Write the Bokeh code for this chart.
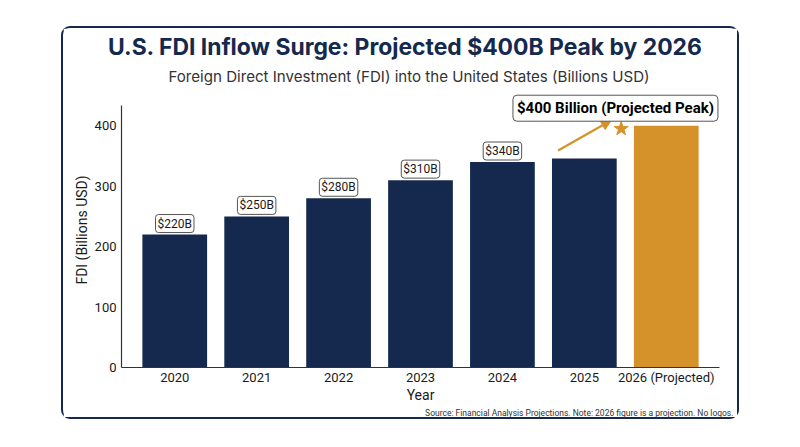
from bokeh.plotting import figure
from bokeh.models import (ColumnDataSource, FactorRange, Range1d, Label, Title,
                          Arrow, NormalHead, SingleIntervalTicker)
from bokeh.embed import file_html
from bokeh.resources import INLINE

# ---- data ----
years = ["2020", "2021", "2022", "2023", "2024", "2025", "2026 (Projected)"]
fdi = [220, 250, 280, 310, 340, 346, 400]
bar_colors = ["#14294d"] * 6 + ["#d6922a"]
label_years = ["2020", "2021", "2022", "2023", "2024"]
label_values = [220, 250, 280, 310, 340]
label_texts = ["$220B", "$250B", "$280B", "$310B", "$340B"]
peak_value = 400
peak_text = "$400 Billion (Projected Peak)"
y_ticks_step = 100
y_axis_top = 433

NAVY = "#14294d"
ORANGE = "#d6922a"
FONT = "Roboto"
TFONT = "Inter"

p = figure(width=678, height=393,
           x_range=FactorRange(*years, range_padding=0.15, range_padding_units="absolute"),
           y_range=Range1d(0, 455), output_backend="svg", toolbar_location=None,
           min_border_left=58, min_border_right=22, min_border_top=64, min_border_bottom=54,
           margin=(26, 0, 0, 61),
           styles={"border": "2px solid #14294d", "border-radius": "9px"})
p.outline_line_color = None
p.xgrid.grid_line_color = None
p.ygrid.grid_line_color = None
p.background_fill_color = "white"
p.border_fill_color = "white"

src = ColumnDataSource(dict(year=years, fdi=fdi, color=bar_colors))
p.vbar(x="year", top="fdi", width=0.79, color="color", source=src, line_color=None)

# axes
for ax in (p.xaxis[0], p.yaxis[0]):
    ax.axis_line_color = "#333333"
    ax.axis_line_width = 1.2
    ax.major_tick_line_color = None
    ax.minor_tick_line_color = None
    ax.major_tick_out = 0
    ax.major_tick_in = 0
    ax.minor_tick_out = 0
    ax.minor_tick_in = 0
    ax.major_label_text_font = FONT
    ax.major_label_text_font_size = "13px"
    ax.major_label_text_color = "#1a1a1a"
    ax.axis_label_text_font = FONT
    ax.axis_label_text_font_size = "14px"
    ax.axis_label_text_font_style = "normal"
    ax.axis_label_text_color = "#1a1a1a"
p.yaxis.ticker = SingleIntervalTicker(interval=y_ticks_step)
p.yaxis.bounds = (0, y_axis_top)
p.yaxis.axis_label = "FDI (Billions USD)"
p.xaxis.axis_label = "Year"
p.yaxis.major_label_standoff = 5
p.xaxis.major_label_standoff = 2
p.yaxis.axis_label_standoff = 2
p.xaxis.axis_label_standoff = -1

# value labels
for yr, v, t in zip(label_years, label_values, label_texts):
    p.add_layout(Label(x=years.index(yr) + 0.5, y=v, text=t, y_offset=11,
                       text_align="center", text_baseline="middle",
                       text_font=FONT, text_font_size="12px", text_color="#1a1a1a",
                       background_fill_color="white", border_line_color="#555555",
                       border_line_width=1, border_radius=3, padding=2))

# arrow, star, peak annotation
i25 = years.index("2025") + 0.5
p.add_layout(Arrow(x_start=i25 - 0.32, y_start=peak_value - 41, x_end=i25 + 0.33, y_end=peak_value + 9,
                   line_color=ORANGE, line_width=2.2,
                   end=NormalHead(size=10, fill_color=ORANGE, line_color=ORANGE)))
p.scatter(x=[i25 + 0.45], y=[peak_value - 5], marker="star", size=15, color=ORANGE)
p.add_layout(Label(x=i25 + 0.38, y=peak_value + 29, text=peak_text, text_align="center",
                   text_baseline="middle", text_font=FONT, text_font_size="15px",
                   text_font_style="bold", text_color="black", background_fill_color="white",
                   border_line_color="#555555", border_line_width=1, border_radius=4,
                   padding=4))

# titles (first added sits closest to the plot)
p.add_layout(Title(text="Foreign Direct Investment (FDI) into the United States (Billions USD)",
                   align="left", offset=47, standoff=14, text_font=TFONT,
                   text_font_size="15.1px", text_font_style="normal", text_color="#333333"), "above")
p.add_layout(Title(text="U.S. FDI Inflow Surge: Projected $400B Peak by 2026",
                   align="left", offset=-13.5, standoff=-7, text_font=TFONT,
                   text_font_size="22.9px", text_font_style="bold", text_color=NAVY), "above")
p.add_layout(Title(text="Source: Financial Analysis Projections. Note: 2026 figure is a projection. No logos.",
                   align="right", offset=-14, standoff=0, text_font=FONT,
                   text_font_size="8.5px", text_font_style="normal", text_color="#333333"), "below")

open("out.html", "w").write(file_html(p, INLINE))
